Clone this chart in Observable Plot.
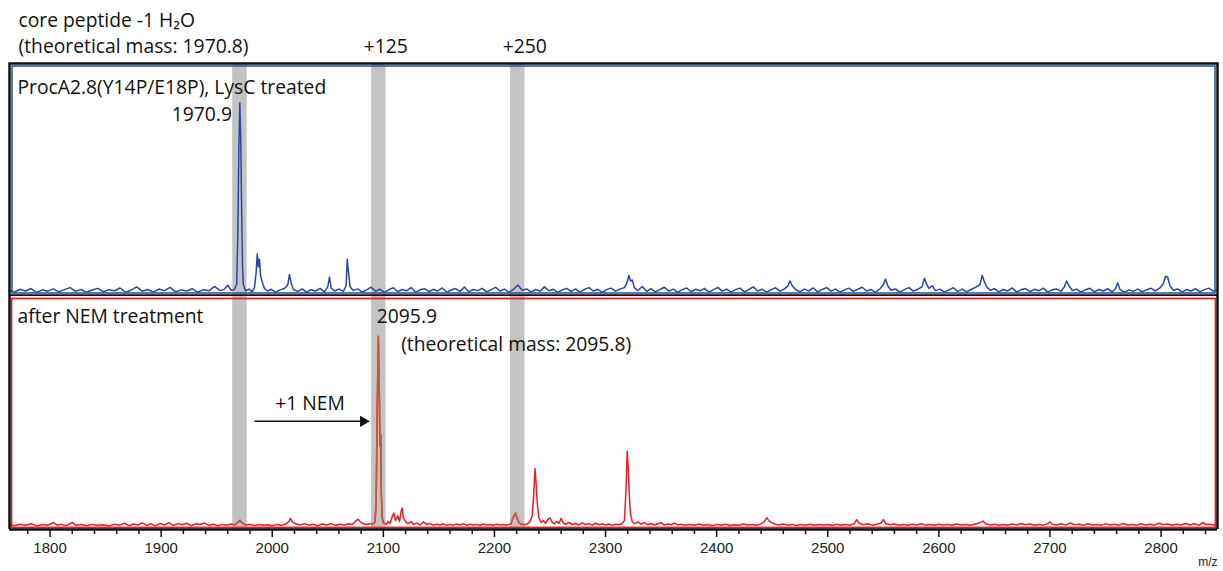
<!DOCTYPE html>
<html><head><meta charset="utf-8">
<script src="https://cdn.jsdelivr.net/npm/d3@7"></script>
<script src="https://cdn.jsdelivr.net/npm/@observablehq/plot@0.6"></script>
<style>body{margin:0;background:#fff} #chart svg{display:block}</style>
</head><body><div id="chart"></div>
<script>
// ---- data (m/z, relative intensity) ----
const blueSpectrum = [
[1763,0.6],[1768,-0.4],[1773,1.1],[1778,0.2],[1783,1.5],[1788,-0.6],[1793,0.8],[1798,0.1],[1803,1.3],[1808,-0.3],
[1813,0.9],[1818,2.0],[1823,0.0],[1828,1.0],[1833,-0.5],[1838,0.7],[1843,1.6],[1848,-0.2],[1853,0.9],[1858,0.3],
[1863,1.8],[1868,-0.5],[1873,0.6],[1878,2.4],[1883,0.1],[1888,1.0],[1893,-0.4],[1898,1.2],[1903,0.4],[1908,2.1],
[1913,-0.3],[1918,0.8],[1923,0.2],[1928,1.4],[1933,-0.5],[1938,0.9],[1943,0.3],[1948,2.6],[1953,0.4],[1957,1.2],
[1960,3.3],[1963,0.6],[1966,1.0],[1968,4.0],[1969,30],[1970,78],[1970.8,100],[1971.6,82],[1972.4,45],[1973.2,14],
[1974,3.5],[1976,0.3],[1979,1.2],[1982,-0.3],[1984,2.0],[1985.5,10],[1986.5,20],[1987.5,13],[1988.5,17],[1989.5,8],
[1991,5],[1993,1.5],[1996,0.2],[1999,1.1],[2003,-0.4],[2007,0.8],[2011,1.5],[2014,3.5],[2015.5,9],[2017,4.5],
[2019,1.0],[2023,0.0],[2027,1.3],[2031,-0.4],[2035,0.9],[2039,0.2],[2043,1.6],[2047,-0.3],[2050,2.5],[2051.5,7.5],
[2053,1.8],[2056,0.2],[2060,1.2],[2064,0.0],[2066.5,3.0],[2067.5,17],[2068.5,11],[2070,2.5],[2073,0.4],[2077,1.3],
[2081,-0.4],[2085,0.8],[2089,2.2],[2093,0.1],[2097,1.1],[2101,-0.5],[2105,0.9],[2109,1.9],[2113,-0.2],[2117,1.0],
[2121,0.3],[2125,2.0],[2129,-0.5],[2133,0.8],[2137,1.4],[2141,-0.2],[2145,1.1],[2149,0.2],[2153,1.8],[2157,-0.5],
[2161,0.7],[2165,1.5],[2169,0.0],[2173,2.3],[2177,-0.3],[2181,1.0],[2185,0.4],[2189,1.6],[2193,-0.3],[2197,0.9],
[2201,2.1],[2205,0.2],[2209,1.2],[2213,-0.5],[2217,1.0],[2221,3.4],[2225,0.6],[2229,1.3],[2233,-0.4],[2237,1.0],
[2241,0.1],[2245,2.4],[2249,0.3],[2253,1.1],[2257,-0.5],[2261,0.8],[2265,1.6],[2269,0.0],[2273,1.3],[2277,-0.4],
[2281,1.0],[2285,2.0],[2289,0.2],[2293,1.1],[2297,-0.5],[2301,0.9],[2305,1.7],[2309,0.1],[2313,1.2],[2317,2.0],
[2319.5,5.0],[2321,8.5],[2322.5,5.5],[2324,6.0],[2326,2.0],[2329,0.3],[2333,2.6],[2337,0.0],[2341,1.4],[2345,-0.4],
[2349,1.0],[2353,2.2],[2357,0.1],[2361,1.2],[2365,-0.5],[2369,0.9],[2373,1.8],[2377,-0.2],[2381,1.1],[2385,0.3],
[2389,1.6],[2393,-0.4],[2397,0.8],[2401,2.1],[2405,0.1],[2409,1.2],[2413,-0.4],[2417,0.9],[2421,1.7],[2425,-0.3],
[2429,1.0],[2433,2.4],[2437,0.2],[2441,1.1],[2445,-0.4],[2449,0.9],[2453,1.9],[2457,0.1],[2461,1.3],[2464,2.8],
[2466,5.5],[2468,3.0],[2471,1.0],[2475,-0.3],[2479,1.2],[2483,0.2],[2487,1.8],[2491,-0.4],[2495,1.0],[2499,2.0],
[2503,0.1],[2507,1.2],[2511,-0.4],[2515,0.8],[2519,1.7],[2523,0.0],[2527,1.1],[2531,2.2],[2535,0.2],[2539,1.0],
[2543,-0.5],[2547,1.4],[2550,3.5],[2552,6.5],[2554,3.0],[2557,0.6],[2561,1.3],[2565,-0.4],[2569,0.9],[2573,2.0],
[2577,0.1],[2581,1.1],[2585,2.5],[2587,7.0],[2589,4.0],[2591,1.5],[2594,3.0],[2597,0.4],[2601,1.2],[2605,-0.4],
[2609,0.8],[2613,1.9],[2617,0.0],[2621,1.2],[2625,-0.3],[2629,1.0],[2633,2.1],[2637,3.5],[2639,8.5],[2641,5.0],
[2643,2.5],[2646,0.6],[2650,1.4],[2654,-0.3],[2658,1.0],[2662,0.2],[2666,1.8],[2670,-0.4],[2674,0.9],[2678,1.5],
[2682,-0.2],[2686,1.1],[2690,0.3],[2694,1.7],[2698,-0.4],[2702,0.8],[2706,1.3],[2710,0.0],[2713,2.5],[2715,5.5],
[2717,3.0],[2720,0.5],[2724,1.2],[2728,-0.4],[2732,0.9],[2736,1.6],[2740,-0.3],[2744,1.0],[2748,0.2],[2752,1.4],
[2756,-0.4],[2759,1.5],[2761,4.5],[2763,1.0],[2767,-0.5],[2771,0.8],[2775,0.0],[2779,1.2],[2783,-0.3],[2787,0.9],
[2791,1.6],[2795,0.2],[2799,1.8],[2802,4.0],[2804,8.0],[2806,7.5],[2808,3.0],[2811,0.6],[2815,1.3],[2819,-0.4],
[2823,1.0],[2827,0.2],[2831,1.5],[2835,-0.3],[2839,0.9],[2843,1.7],[2847,0.1],[2850,0.8]
];

const redSpectrum = [
[1763,0.3],[1768,-0.2],[1773,0.6],[1778,0.0],[1783,0.8],[1788,-0.3],[1793,0.4],[1798,0.1],[1803,1.5],[1806,0.2],
[1810,0.5],[1815,-0.2],[1820,1.6],[1823,0.1],[1828,0.4],[1833,-0.2],[1838,0.5],[1843,0.0],[1848,0.3],[1853,-0.3],
[1858,0.6],[1863,0.1],[1867,1.2],[1871,-0.2],[1875,0.7],[1879,0.2],[1883,1.3],[1887,0.0],[1891,0.8],[1895,-0.3],
[1899,1.0],[1903,0.2],[1907,1.4],[1911,-0.1],[1915,0.9],[1919,0.3],[1923,1.1],[1927,-0.2],[1931,0.8],[1935,0.4],
[1939,1.2],[1943,0.0],[1947,0.6],[1951,-0.3],[1955,0.5],[1959,0.1],[1963,0.7],[1966,0.3],[1968,1.0],[1969.5,1.8],
[1971,2.7],[1972.5,1.5],[1974,0.8],[1976,0.2],[1980,0.5],[1984,-0.1],[1988,0.4],[1992,0.0],[1996,0.3],[2000,-0.2],
[2004,0.5],[2008,0.1],[2012,0.6],[2015,2.0],[2016.5,3.7],[2018,1.8],[2021,0.8],[2025,0.2],[2029,0.9],[2033,0.1],
[2037,0.6],[2041,-0.2],[2045,0.7],[2049,0.2],[2053,0.9],[2057,0.0],[2061,0.6],[2065,0.2],[2069,0.8],[2072,0.4],
[2075,2.2],[2077,3.2],[2079,2.0],[2082,0.8],[2085,0.4],[2088,0.9],[2090,0.6],[2091.5,1.0],[2092.5,2.0],[2093.5,12],
[2094.5,62],[2095.5,100],[2096.3,72],[2097,42],[2097.6,48],[2098.2,16],[2099,4],[2100,1.5],[2101.5,0.8],[2103,0.5],
[2104,2.0],[2106,1.0],[2108,4.5],[2109.5,6.5],[2111,2.5],[2113,5.0],[2114.5,2.0],[2116,7.5],[2117,9.0],[2118,4.0],
[2120,2.0],[2122,0.8],[2125,2.0],[2127,0.4],[2130,1.2],[2133,0.2],[2136,1.8],[2139,0.5],[2142,0.9],[2145,0.1],
[2148,0.6],[2151,0.2],[2154,0.8],[2157,0.0],[2160,0.5],[2163,0.1],[2166,0.7],[2169,0.2],[2172,0.9],[2175,0.0],
[2178,0.6],[2181,0.2],[2184,0.5],[2187,-0.1],[2190,0.7],[2193,0.2],[2196,0.4],[2199,0.0],[2202,0.6],[2205,0.2],
[2208,0.5],[2211,0.1],[2214,0.6],[2215,1.0],[2216,3.0],[2217.5,5.0],[2219,6.5],[2220.5,3.5],[2222,1.5],[2224,0.6],
[2226,0.5],[2227,0.3],[2230,0.9],[2232,2.0],[2234,5.0],[2235.5,18],[2236.5,30],[2237.5,22],[2238.5,12],[2240,4.0],
[2242,1.5],[2244,2.5],[2246,1.0],[2248,3.0],[2250,4.0],[2252,1.5],[2254,0.8],[2256,2.0],[2258,1.0],[2260,3.7],
[2262,1.2],[2264,0.5],[2267,1.6],[2270,0.4],[2273,1.0],[2276,0.2],[2279,1.3],[2282,0.4],[2285,0.9],[2288,0.1],
[2291,1.1],[2294,0.3],[2297,0.8],[2300,0.2],[2303,0.7],[2306,0.0],[2309,0.6],[2312,0.3],[2315,1.0],[2317,2.5],
[2318.5,20],[2319.5,39],[2320.5,30],[2321.5,14],[2322.5,6],[2324,2.0],[2326,0.8],[2329,1.8],[2332,0.6],[2335,1.5],
[2338,0.3],[2341,1.0],[2344,0.2],[2347,0.8],[2350,1.4],[2353,0.1],[2356,0.7],[2359,0.3],[2362,1.2],[2365,0.2],
[2368,0.6],[2372,0.0],[2376,0.5],[2380,0.1],[2384,0.7],[2388,0.0],[2392,0.4],[2396,-0.2],[2400,0.5],[2404,0.1],
[2408,0.6],[2412,-0.1],[2416,0.3],[2420,0.0],[2424,0.7],[2428,0.2],[2432,0.5],[2436,0.0],[2440,0.8],[2443,2.0],
[2445,4.0],[2447,2.5],[2450,1.2],[2453,0.6],[2456,0.2],[2460,0.7],[2464,0.1],[2468,0.5],[2472,-0.1],[2476,0.4],
[2480,0.1],[2484,0.6],[2488,0.0],[2492,0.5],[2496,0.2],[2500,0.4],[2504,-0.1],[2508,0.6],[2512,0.1],[2516,0.5],
[2520,0.0],[2524,1.0],[2526,3.0],[2528,1.2],[2532,0.3],[2536,0.8],[2540,0.1],[2544,0.6],[2548,1.2],[2550,3.0],
[2552,1.0],[2556,0.3],[2560,0.7],[2564,0.0],[2568,0.5],[2572,0.1],[2576,0.6],[2580,0.2],[2584,0.8],[2588,0.1],
[2592,0.5],[2596,0.0],[2600,0.6],[2604,0.2],[2608,0.4],[2612,0.0],[2616,0.7],[2620,0.2],[2624,0.5],[2628,0.0],
[2632,0.6],[2636,1.2],[2640,2.2],[2642,0.8],[2646,0.2],[2650,0.6],[2654,0.0],[2658,0.5],[2662,0.1],[2666,0.7],
[2670,0.2],[2674,1.0],[2678,0.3],[2682,0.7],[2686,0.0],[2690,0.5],[2694,0.1],[2698,0.9],[2700,1.8],[2702,0.6],
[2706,0.2],[2710,0.8],[2714,0.1],[2718,1.2],[2722,0.3],[2726,0.6],[2730,0.0],[2734,0.8],[2738,0.2],[2742,0.5],
[2746,0.0],[2750,0.9],[2754,0.2],[2758,0.6],[2762,0.1],[2766,1.0],[2770,0.2],[2774,0.5],[2778,0.0],[2782,0.8],
[2786,0.2],[2790,0.6],[2794,0.1],[2798,1.1],[2802,0.3],[2806,0.7],[2810,0.0],[2814,0.6],[2818,0.2],[2822,1.0],
[2826,0.2],[2830,0.8],[2834,0.0],[2838,1.5],[2840,0.4],[2844,0.6],[2848,0.1],[2850,0.4]
];

const bandCenters = [1970.9, 2095.9, 2220.9];
const bandHalfWidth = 6.5;
const bandLabels = ["", "+125", "+250"];
const majorTicks = [1800, 1900, 2000, 2100, 2200, 2300, 2400, 2500, 2600, 2700, 2800];
const minorTicks = [1780, 1820, 1840, 1860, 1880, 1920, 1940, 1960, 1980, 2020, 2040, 2060, 2080,
  2120, 2140, 2160, 2180, 2220, 2240, 2260, 2280, 2320, 2340, 2360, 2380, 2420, 2440, 2460, 2480,
  2520, 2540, 2560, 2580, 2620, 2640, 2660, 2680, 2720, 2740, 2760, 2780, 2820, 2840];
const headerLines = ["core peptide -1 H\u2082O", "(theoretical mass: 1970.8)"];
const topTitle = "ProcA2.8(Y14P/E18P), LysC treated";
const bottomTitle = "after NEM treatment";
const topPeak = {mz: 1970.9, label: "1970.9"};
const bottomPeak = {mz: 2095.9, label: "2095.9", theo: "(theoretical mass: 2095.8)"};
const nemLabel = "+1 NEM";
const xLabel = "m/z";

// ---- chart ----
const W = 1223;
const xDomain = [1763.5, 2850.8];
const yDomain = [-2.2, 121];
const FONT = "'Open Sans', 'Noto Sans', sans-serif";
const FS = 19.3;
const BLUE = "#2a479f", BLUE_FRAME = "#3553ad", RED = "#ec1c24", BAND = "#c3c3c3", BAND_RED = "#c65a3e";

const blue = blueSpectrum.map(([mz, intensity]) => ({mz, intensity}));
const red = redSpectrum.map(([mz, intensity]) => ({mz, intensity}));
const bands = bandCenters.map((c, i) => ({x1: c - bandHalfWidth, x2: c + bandHalfWidth, c, i, label: bandLabels[i]}));
const redInBand = red.flatMap(d => {
  const b = bands.find(b => d.mz >= b.x1 && d.mz <= b.x2);
  return b ? [{...d, band: b.i}] : [];
});

const common = {
  width: W, marginLeft: 9, marginRight: 6,
  x: {domain: xDomain, axis: null, label: null},
  y: {domain: yDomain, axis: null, label: null},
  style: {fontFamily: FONT, fontSize: FS + "px", color: "#111", background: "white"}
};

const topPlot = Plot.plot({
  ...common,
  height: 296, marginTop: 63, marginBottom: 1,
  marks: [
    Plot.rect(bands, {x1: "x1", x2: "x2", fill: BAND}),
    Plot.line(blue, {x: "mz", y: "intensity", stroke: BLUE, strokeWidth: 1.5}),
    Plot.frame({stroke: BLUE_FRAME, strokeWidth: 1.6, inset: 2.5}),
    Plot.frame({stroke: "#111", strokeWidth: 2.5}),
    Plot.text([headerLines[0]], {text: d => d, frameAnchor: "top-left", dx: 9, dy: -43, textAnchor: "start", lineAnchor: "middle", fontSize: FS}),
    Plot.text([headerLines[1]], {text: d => d, frameAnchor: "top-left", dx: 9, dy: -17, textAnchor: "start", lineAnchor: "middle", fontSize: FS}),
    Plot.text(bands.filter(b => b.label), {x: "c", text: "label", frameAnchor: "top", dy: -17, dx: 7, lineAnchor: "middle", fontSize: FS}),
    Plot.text([topTitle], {text: d => d, frameAnchor: "top-left", dx: 8, dy: 24, textAnchor: "start", lineAnchor: "middle", fontSize: FS}),
    Plot.text([topPeak], {x: "mz", y: () => 93.8, text: "label", dx: -8, textAnchor: "end", lineAnchor: "middle", fontSize: FS})
  ]
});

const bottomPlot = Plot.plot({
  ...common,
  height: 275, marginTop: 0, marginBottom: 42,
  marks: [
    Plot.rect(bands, {x1: "x1", x2: "x2", fill: BAND}),
    Plot.line(red, {x: "mz", y: "intensity", stroke: RED, strokeWidth: 1.5}),
    Plot.line(redInBand, {x: "mz", y: "intensity", z: "band", stroke: BAND_RED, strokeWidth: 1.6}),
    Plot.frame({stroke: RED, strokeWidth: 1.8, inset: 2}),
    Plot.ruleX(xDomain, {stroke: "#111", strokeWidth: 2.5}),
    Plot.ruleY([yDomain[0]], {stroke: "#111", strokeWidth: 2.5}),
    Plot.axisX(majorTicks, {anchor: "bottom", tickSize: 8, tickPadding: 5, strokeWidth: 1.5, stroke: "#111",
      tickFormat: d => String(d), fontFamily: "'Liberation Sans', Arial, sans-serif", fontSize: 15, fill: "#222", label: null}),
    Plot.axisX(minorTicks, {anchor: "bottom", tickSize: 5, strokeWidth: 1.5, stroke: "#111", tickFormat: () => "", label: null}),
    Plot.text([bottomTitle], {text: d => d, frameAnchor: "top-left", dx: 8, dy: 20, textAnchor: "start", lineAnchor: "middle", fontSize: FS}),
    Plot.text([bottomPeak], {x: "mz", y: () => 110, text: "label", dx: -2, textAnchor: "start", lineAnchor: "middle", fontSize: FS}),
    Plot.text([bottomPeak], {x: () => 2116, y: () => 95.5, text: "theo", textAnchor: "start", lineAnchor: "middle", fontSize: FS}),
    Plot.text([nemLabel], {x: () => 2034, y: () => 64, text: d => d, lineAnchor: "middle", fontSize: FS}),
    Plot.link([nemLabel], {x1: () => 1984, x2: () => 2081, y1: () => 55, y2: () => 55, stroke: "#111", strokeWidth: 1.6}),
    Plot.dot([nemLabel], {x: () => 2082, y: () => 55, symbol: "triangle", rotate: 90, r: 4.2, fill: "#111", stroke: "none"}),
    Plot.text([xLabel], {text: d => d, frameAnchor: "bottom-right", dy: 33, textAnchor: "end", lineAnchor: "middle",
      fontFamily: "'Liberation Sans', Arial, sans-serif", fontSize: 12, fill: "#222"})
  ]
});

const chart = document.getElementById("chart");
chart.append(topPlot, bottomPlot);
</script></body></html>
